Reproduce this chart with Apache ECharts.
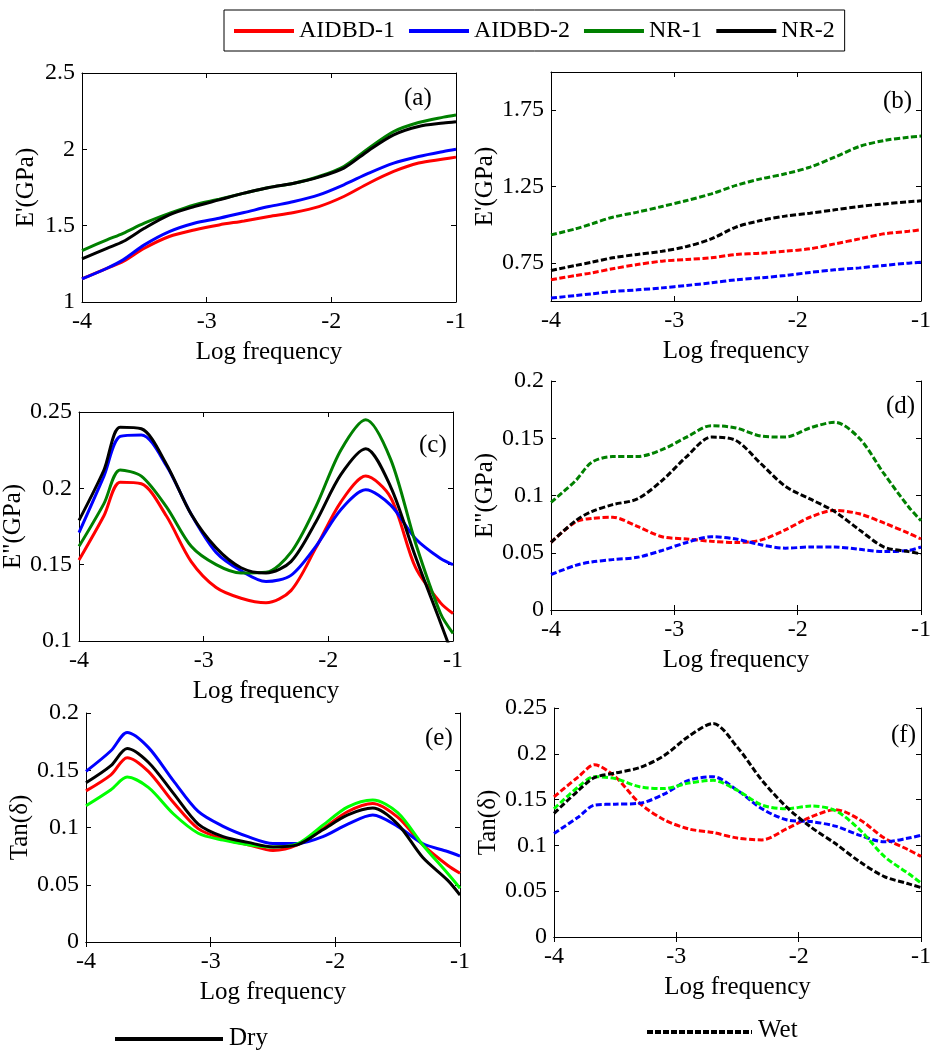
<!DOCTYPE html>
<html>
<head>
<meta charset="utf-8">
<script src="https://cdn.jsdelivr.net/npm/echarts@6/dist/echarts.min.js"></script>
<style>html,body{margin:0;padding:0;background:#fff}#c{width:934px;height:1050px}</style>
</head>
<body>
<div id="c"></div>
<script>
// Shared x positions (Log frequency)
const xs = [-4, -3.8, -3.67, -3.5, -3.3, -3.1, -2.9, -2.7, -2.5, -2.3, -2.1, -1.9, -1.7, -1.5, -1.3, -1.1, -1];
const seriesNames = ['AIDBD-1', 'AIDBD-2', 'NR-1', 'NR-2'];
const xTicks = [-4, -3, -2, -1];

// (a) E' dry
const aRed   = [1.151,1.221,1.265,1.352,1.429,1.472,1.505,1.531,1.560,1.586,1.625,1.691,1.778,1.855,1.910,1.936,1.949];
const aBlue  = [1.151,1.221,1.276,1.374,1.461,1.516,1.549,1.586,1.625,1.658,1.702,1.768,1.844,1.910,1.953,1.986,2.000];
const aGreen = [1.337,1.407,1.450,1.516,1.580,1.636,1.673,1.713,1.750,1.778,1.822,1.888,2.008,2.117,2.176,2.211,2.225];
const aBlack = [1.282,1.352,1.396,1.483,1.571,1.625,1.669,1.713,1.750,1.778,1.818,1.877,1.993,2.095,2.150,2.172,2.181];
// (b) E' wet
const bRed   = [0.639,0.667,0.684,0.711,0.739,0.761,0.772,0.783,0.805,0.813,0.826,0.842,0.874,0.907,0.940,0.957,0.966];
const bBlue  = [0.519,0.536,0.547,0.562,0.573,0.586,0.602,0.619,0.639,0.652,0.667,0.687,0.704,0.717,0.733,0.748,0.754];
const bGreen = [0.933,0.973,1.005,1.049,1.082,1.119,1.158,1.202,1.257,1.300,1.333,1.377,1.442,1.512,1.551,1.573,1.580];
const bBlack = [0.700,0.733,0.754,0.783,0.805,0.826,0.857,0.907,0.984,1.027,1.056,1.075,1.097,1.119,1.136,1.150,1.156];
// (c) E'' dry
const cRed   = [0.153,0.182,0.204,0.203,0.182,0.152,0.135,0.128,0.125,0.133,0.161,0.191,0.208,0.194,0.148,0.125,0.118];
const cBlue  = [0.171,0.208,0.234,0.235,0.215,0.183,0.158,0.146,0.139,0.143,0.162,0.186,0.199,0.189,0.167,0.154,0.150];
const cGreen = [0.162,0.190,0.212,0.208,0.188,0.162,0.150,0.1445,0.145,0.158,0.188,0.225,0.245,0.219,0.164,0.118,0.105];
const cBlack = [0.179,0.212,0.240,0.239,0.216,0.183,0.161,0.148,0.1445,0.152,0.178,0.209,0.226,0.201,0.155,0.112,0.090];
// (d) E'' wet
const dRed   = [0.059,0.077,0.080,0.081,0.073,0.064,0.062,0.060,0.059,0.061,0.070,0.081,0.087,0.084,0.076,0.067,0.062];
const dBlue  = [0.031,0.039,0.042,0.044,0.046,0.052,0.059,0.064,0.062,0.057,0.054,0.055,0.055,0.053,0.051,0.052,0.055];
const dGreen = [0.094,0.113,0.129,0.134,0.134,0.140,0.151,0.161,0.159,0.152,0.151,0.159,0.164,0.150,0.119,0.090,0.078];
const dBlack = [0.059,0.078,0.086,0.092,0.097,0.113,0.134,0.151,0.148,0.128,0.108,0.097,0.086,0.070,0.055,0.051,0.049];
// (e) Tan dry
const eRed   = [0.132,0.146,0.161,0.149,0.122,0.099,0.090,0.085,0.080,0.085,0.099,0.114,0.121,0.109,0.085,0.067,0.060];
const eBlue  = [0.149,0.167,0.183,0.170,0.141,0.114,0.101,0.092,0.086,0.086,0.092,0.103,0.111,0.101,0.086,0.079,0.075];
const eGreen = [0.119,0.133,0.144,0.135,0.112,0.095,0.089,0.085,0.083,0.086,0.102,0.118,0.124,0.113,0.085,0.060,0.047];
const eBlack = [0.139,0.154,0.169,0.157,0.130,0.103,0.092,0.087,0.083,0.085,0.098,0.111,0.117,0.103,0.074,0.054,0.041];
// (f) Tan wet
const fRed   = [0.153,0.175,0.188,0.175,0.146,0.128,0.118,0.114,0.108,0.106,0.118,0.131,0.139,0.128,0.108,0.095,0.088];
const fBlue  = [0.113,0.131,0.144,0.145,0.146,0.156,0.171,0.175,0.160,0.140,0.128,0.126,0.121,0.111,0.104,0.108,0.111];
const fGreen = [0.140,0.164,0.175,0.173,0.164,0.162,0.168,0.171,0.160,0.144,0.140,0.143,0.138,0.117,0.088,0.069,0.059];
const fBlack = [0.135,0.160,0.174,0.179,0.185,0.198,0.219,0.233,0.207,0.171,0.142,0.120,0.102,0.082,0.066,0.058,0.054];

const FONT = '"Liberation Serif","Times New Roman",serif';

const panels = [
  {tag:'(a)', grid:{left:82,top:73,width:374,height:229}, ymin:1, ymax:2.5, yint:0.5, yname:"E'(GPa)", data:[aRed,aBlue,aGreen,aBlack], dashed:false, green:'#008000', tagPos:[418,100]},
  {tag:'(b)', grid:{left:551,top:72,width:374,height:229}, ymin:0.5, ymax:2, yint:0.25, ycustom:[0.75,1.25,1.75], yname:"E'(GPa)", data:[bRed,bBlue,bGreen,bBlack], dashed:true, green:'#008000', tagPos:[897,103]},
  {tag:'(c)', grid:{left:79,top:412,width:374,height:229}, ymin:0.1, ymax:0.25, yint:0.05, yname:'E"(GPa)', data:[cRed,cBlue,cGreen,cBlack], dashed:false, green:'#008000', tagPos:[433,447]},
  {tag:'(d)', grid:{left:551,top:381,width:374,height:229}, ymin:0, ymax:0.2, yint:0.05, yname:'E"(GPa)', data:[dRed,dBlue,dGreen,dBlack], dashed:true, green:'#008000', tagPos:[900,408]},
  {tag:'(e)', grid:{left:86,top:713,width:374,height:229}, ymin:0, ymax:0.2, yint:0.05, yname:'Tan(δ)', data:[eRed,eBlue,eGreen,eBlack], dashed:false, green:'#00ff00', tagPos:[439,740]},
  {tag:'(f)', grid:{left:554,top:708,width:373,height:229}, ymin:0, ymax:0.25, yint:0.05, yname:'Tan(δ)', data:[fRed,fBlue,fGreen,fBlack], dashed:true, green:'#00ff00', tagPos:[905,737]}
];

const grids = [], xAxes = [], yAxes = [], series = [], graphics = [];
const axisLineStyle = {show:true, lineStyle:{color:'#000', width:1}};
const tickStyle = {show:true, inside:true, length:5, lineStyle:{color:'#000', width:1}};
const labelStyle = {color:'#000', fontFamily:FONT, fontSize:24};

panels.forEach((p, i) => {
  grids.push(Object.assign({containLabel:false}, p.grid));
  xAxes.push({gridIndex:i, type:'value', min:-4, max:-1, interval:1, position:'bottom',
    axisLine:axisLineStyle, axisTick:tickStyle, splitLine:{show:false},
    axisLabel:Object.assign({margin:8, customValues:xTicks}, labelStyle),
    name:'Log frequency', nameLocation:'middle', nameGap:38,
    nameTextStyle:{color:'#000', fontFamily:FONT, fontSize:25}});
  xAxes.push({gridIndex:i, type:'value', min:-4, max:-1, interval:1, position:'top',
    axisLine:axisLineStyle, axisTick:tickStyle, splitLine:{show:false}, axisLabel:{show:false}});
  const yl = {gridIndex:i, type:'value', min:p.ymin, max:p.ymax, interval:p.yint, position:'left',
    axisLine:axisLineStyle, axisTick:Object.assign({}, tickStyle), splitLine:{show:false},
    axisLabel:Object.assign({margin:7}, labelStyle),
    name:p.yname, nameLocation:'middle', nameGap:43, nameRotate:90,
    nameTextStyle:{color:'#000', fontFamily:FONT, fontSize:25}};
  const yr = {gridIndex:i, type:'value', min:p.ymin, max:p.ymax, interval:p.yint, position:'right',
    axisLine:axisLineStyle, axisTick:Object.assign({}, tickStyle), splitLine:{show:false}, axisLabel:{show:false}};
  if (p.ycustom) {
    yl.axisLabel.customValues = p.ycustom; yl.axisTick.customValues = p.ycustom;
    yr.axisTick.customValues = p.ycustom;
  }
  yAxes.push(yl, yr);
  const colors = ['#ff0000', '#0000ff', p.green, '#000000'];
  p.data.forEach((vals, k) => {
    series.push({
      type:'line', name:seriesNames[k], xAxisIndex:2*i, yAxisIndex:2*i,
      data: xs.map((x, j) => [x, vals[j]]),
      showSymbol:false, symbol:'none', smooth:0.3, clip:true,
      itemStyle:{color:colors[k]},
      lineStyle:{color:colors[k], width:3, type: p.dashed ? [6,2.5] : 'solid'},
      z: 2 + k
    });
  });
  graphics.push({type:'text', left:p.tagPos[0]-14, top:p.tagPos[1]-14,
    style:{text:p.tag, font:'25px ' + FONT, fill:'#000'}});
});

// Dry / Wet key
graphics.push({type:'line', shape:{x1:115, y1:1039, x2:223, y2:1039}, style:{stroke:'#000', lineWidth:4}});
graphics.push({type:'text', left:229, top:1026, style:{text:'Dry', font:'25px ' + FONT, fill:'#000'}});
graphics.push({type:'line', shape:{x1:647, y1:1032, x2:752, y2:1032}, style:{stroke:'#000', lineWidth:4, lineDash:[6,2]}});
graphics.push({type:'text', left:758, top:1018, style:{text:'Wet', font:'25px ' + FONT, fill:'#000'}});

const chart = echarts.init(document.getElementById('c'), null, {renderer:'canvas'});
chart.setOption({
  animation:false,
  backgroundColor:'#fff',
  legend:{
    data: seriesNames.map((n, k) => ({name:n, itemStyle:{color:['#ff0000','#0000ff','#008000','#000000'][k]}})),
    left:224, top:10, icon:'rect', itemWidth:60, itemHeight:4, itemGap:14,
    padding:[9,10,8,10], borderColor:'#000', borderWidth:1,
    textStyle:{color:'#000', fontFamily:FONT, fontSize:24}
  },
  grid:grids, xAxis:xAxes, yAxis:yAxes, series:series, graphic:graphics
});
</script>
</body>
</html>
